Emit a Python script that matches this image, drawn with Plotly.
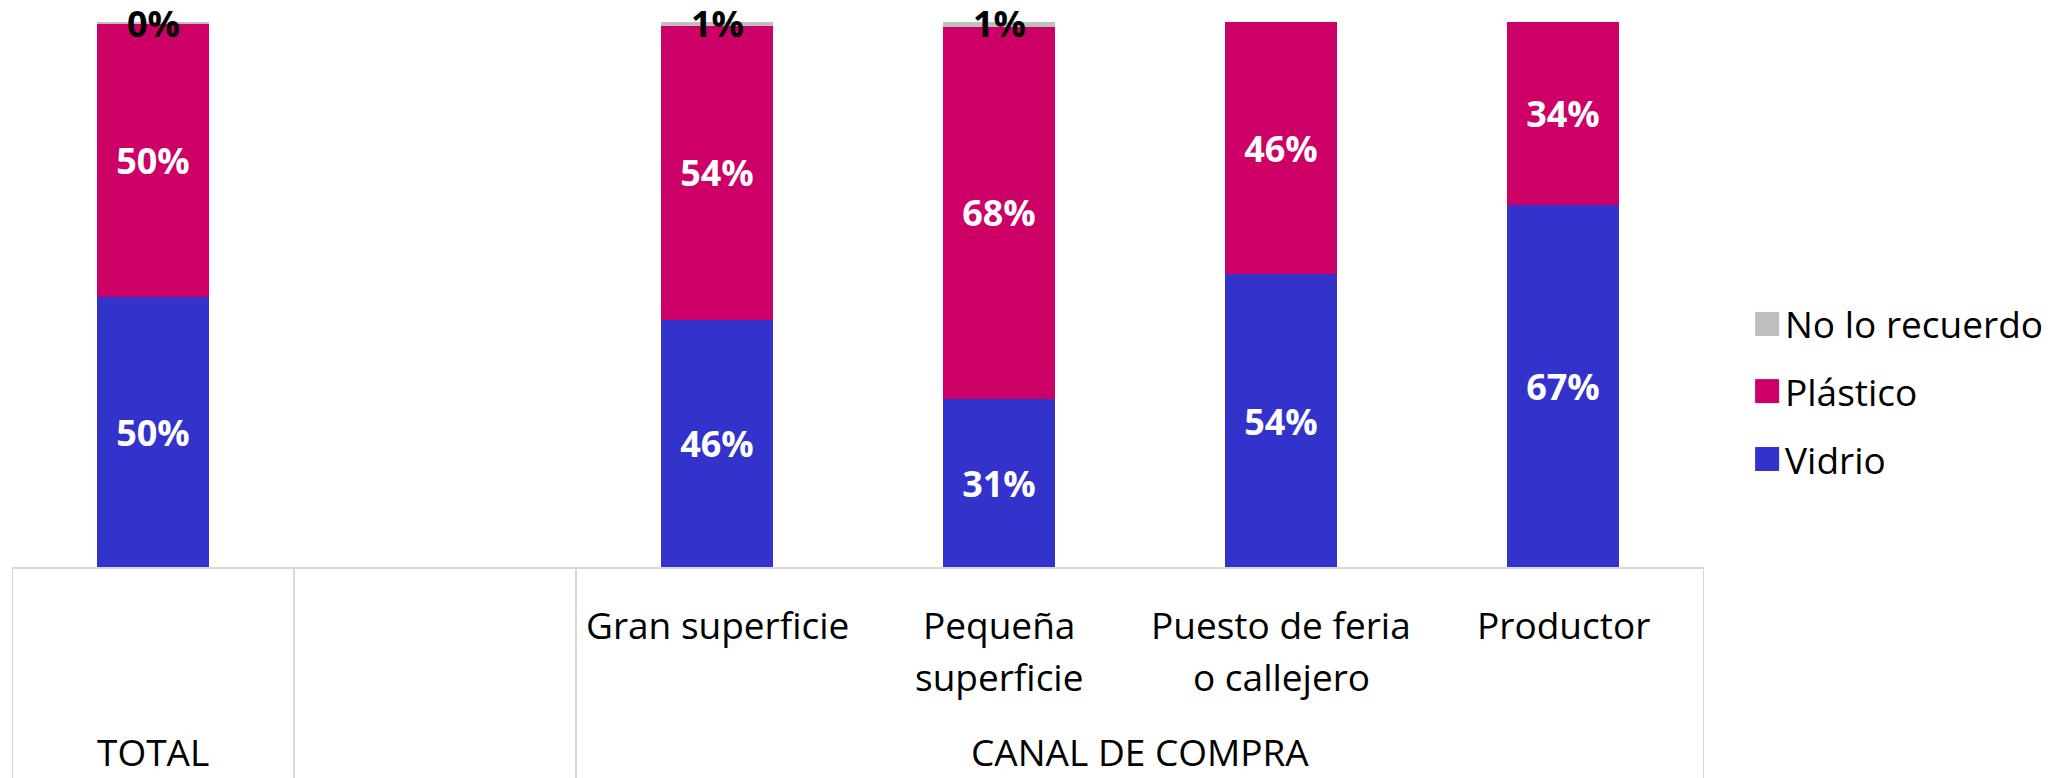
import plotly.graph_objects as go

categories = ["TOTAL", " ", "Gran superficie", "Pequeña superficie",
              "Puesto de feria o callejero", "Productor"]
category_labels = [[], [], ["Gran superficie"], ["Pequeña", "superficie"],
                   ["Puesto de feria", "o callejero"], ["Productor"]]

vidrio = [49.6, None, 45.5, 31.0, 53.8, 66.5]
plastico = [50.0, None, 53.8, 68.1, 46.2, 33.5]
no_recuerdo = [0.4, None, 0.7, 0.9, 0, 0]

vidrio_text = ["50%", "", "46%", "31%", "54%", "67%"]
plastico_text = ["50%", "", "54%", "68%", "46%", "34%"]
no_recuerdo_text = ["0%", "", "1%", "1%", "", ""]

series = [
    ("Vidrio", vidrio, vidrio_text, "#3333CC"),
    ("Plástico", plastico, plastico_text, "#CC0066"),
    ("No lo recuerdo", no_recuerdo, no_recuerdo_text, "#BFBFBF"),
]

FONT = "Open Sans"
LINE = "#D9D9D9"

fig = go.Figure()

for name, vals, labels, color in series[:2]:
    fig.add_trace(go.Bar(
        x=categories,
        y=vals,
        name=name,
        marker_color=color,
        marker_line_width=0,
        text=labels,
        textposition="inside",
        insidetextanchor="middle",
        textangle=0,
        textfont=dict(family=FONT, size=36, color="white", weight="bold"),
    ))

name, vals, labels, color = series[2]
fig.add_trace(go.Bar(
    x=categories,
    y=vals,
    name=name,
    marker_color=color,
    marker_line_width=0,
))

annotations = []

# labels of the tiny "No lo recuerdo" segments sit on the top of the bar
for i, lab in enumerate(no_recuerdo_text):
    if lab:
        top = vidrio[i] + plastico[i] + no_recuerdo[i]
        annotations.append(dict(
            x=categories[i], y=top, xref="x", yref="y",
            text=lab, showarrow=False, yanchor="middle", yshift=-1,
            font=dict(family=FONT, size=36, color="black", weight="bold"),
        ))

# category table, one annotation per text line
for i, lines in enumerate(category_labels):
    for k, lab in enumerate(lines):
        annotations.append(dict(
            x=categories[i], y=-0.1026 - k * 0.0963, xref="x", yref="paper",
            text=lab, showarrow=False, yanchor="middle",
            font=dict(family=FONT, size=37, color="black"),
        ))

# group row, kept inside the bottom edge of the figure
for lab, xv in [("TOTAL", 0), ("CANAL DE COMPRA", 3.5)]:
    annotations.append(dict(
        x=xv, y=-0.3846, xref="x", yref="paper", text=lab,
        showarrow=False, yanchor="bottom", borderpad=0,
        font=dict(family=FONT, size=37, color="black"),
    ))

shapes = [
    dict(type="line", xref="x", yref="paper", x0=-0.5, x1=5.5, y0=0, y1=0,
         line=dict(color=LINE, width=2)),
]
for xv in [-0.5, 0.5, 1.5, 5.5]:
    shapes.append(dict(type="line", xref="x", yref="paper", x0=xv, x1=xv,
                       y0=0, y1=-0.4, line=dict(color=LINE, width=2)))

# legend drawn by hand so the swatches match the size of the text
legend_y = [0.447, 0.324, 0.1996]
for (name, vals, labels, color), ly in zip(reversed(series), legend_y):
    shapes.append(dict(type="rect", xref="paper", yref="paper",
                       x0=1.0302, x1=1.0444, y0=ly - 0.022, y1=ly + 0.022,
                       fillcolor=color, line_width=0))
    annotations.append(dict(
        x=1.0466, y=ly, xref="paper", yref="paper", text=name,
        showarrow=False, xanchor="left", yanchor="middle",
        font=dict(family=FONT, size=37, color="black"),
    ))

fig.update_layout(
    width=2063,
    height=778,
    margin=dict(l=12, r=359, t=22, b=210),
    barmode="stack",
    bargap=0.606,
    showlegend=False,
    plot_bgcolor="white",
    paper_bgcolor="white",
    annotations=annotations,
    shapes=shapes,
    xaxis=dict(showticklabels=False, showgrid=False, zeroline=False,
               categoryorder="array", categoryarray=categories,
               range=[-0.5, 5.5], ticks=""),
    yaxis=dict(range=[0, 100], visible=False, showgrid=False),
)

fig.write_html(
    "out.html",
    config={"displayModeBar": False},
    post_script="document.body.style.margin = '0';",
)
